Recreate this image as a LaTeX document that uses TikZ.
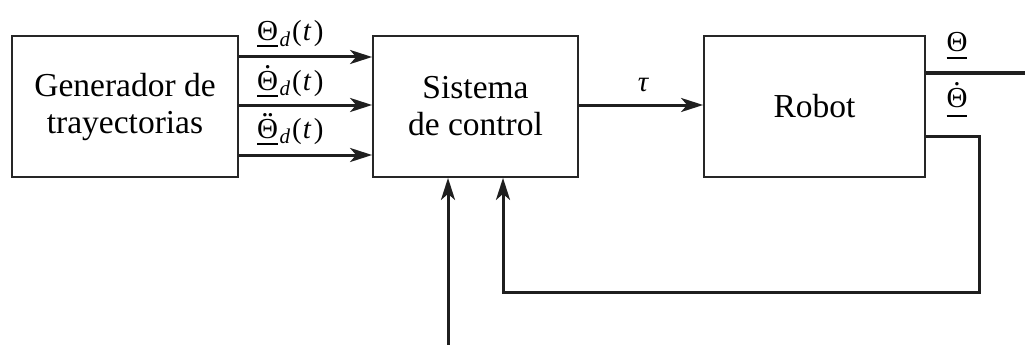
\documentclass[tikz,border=0pt]{standalone}
\usepackage{fontspec}
\newfontfamily\ser{Liberation Serif}
\usetikzlibrary{arrows.meta}
\newcommand{\ulbox}[2]{\setbox0\hbox{#2}\rlap{\rule[-#1]{\wd0}{1.8pt}}\box0}
\newcommand{\DotTh}{\ooalign{Θ\cr\hidewidth\raisebox{0.74em}{.}\hidewidth\cr}}
\newcommand{\DDotTh}{\ooalign{Θ\cr\hidewidth\raisebox{0.74em}{.\kern-0.06em.}\hidewidth\cr}}
\newcommand{\subd}{\kern1.5pt\raisebox{-0.2em}{\fontsize{21}{21}\selectfont\itshape d}}
\newcommand{\ofT}{\kern2pt(\kern1pt\textit{t}\kern2.5pt)}
\begin{document}
\begin{tikzpicture}[x=1pt,y=-1pt,
  blk/.style={draw=black!85,line width=1.8pt,minimum height=141pt,inner sep=0pt,align=center,
    font=\fontsize{33.5}{37}\ser},
  sig/.style={line width=3pt,draw=black!88,-{Stealth[length=22pt,width=14pt,inset=6pt]}},
  wire/.style={line width=3pt,draw=black!88},
  lbl/.style={font=\fontsize{29}{32}\ser,inner sep=0pt}]
\useasboundingbox (0,0) rectangle (1025,345);
\node[blk,minimum width=226pt] (gen) at (125,106.5) {Generador de\\trayectorias};
\node[blk,minimum width=205pt] (sis) at (475.5,106.5) {Sistema\\de control};
\node[blk,minimum width=221pt] (rob) at (814.5,106.5) {Robot};
\coordinate (y1) at (0,57);
\coordinate (y2) at (0,105);
\coordinate (y3) at (0,155);
\coordinate (yt) at (0,105);
\coordinate (yo) at (0,73);
\coordinate (yf) at (0,136);
\coordinate (out) at (1026,73);
\coordinate (fb) at (979,292);
\coordinate (xf) at (503,0);
\coordinate (in) at (448,346);
\draw[sig] (gen.east |- y1) -- (sis.west |- y1);
\draw[sig] (gen.east |- y2) -- (sis.west |- y2);
\draw[sig] (gen.east |- y3) -- (sis.west |- y3);
\draw[sig] (sis.east |- yt) -- (rob.west |- yt);
\draw[wire] (rob.east |- yo) -- (out);
\draw[sig] (rob.east |- yf) -| (fb) -| (sis.south -| xf);
\draw[sig] (in) -- (in |- sis.south);
\node[lbl,anchor=base west] (l1) at (257,41) {\ulbox{6pt}{Θ}\subd\ofT};
\node[lbl,anchor=base west] (l2) at (257,90) {\ulbox{7pt}{\DotTh}\subd\ofT};
\node[lbl,anchor=base west] (l3) at (257,138) {\ulbox{7pt}{\DDotTh}\subd\ofT};
\node[lbl,anchor=base,font=\fontsize{29}{32}\ser] (lt) at (643,92) {\itshape τ};
\node[lbl,anchor=base] (lo) at (957,52) {\ulbox{7pt}{Θ}};
\node[lbl,anchor=base] (lv) at (957,107) {\ulbox{10pt}{\DotTh}};
\end{tikzpicture}
\end{document}
